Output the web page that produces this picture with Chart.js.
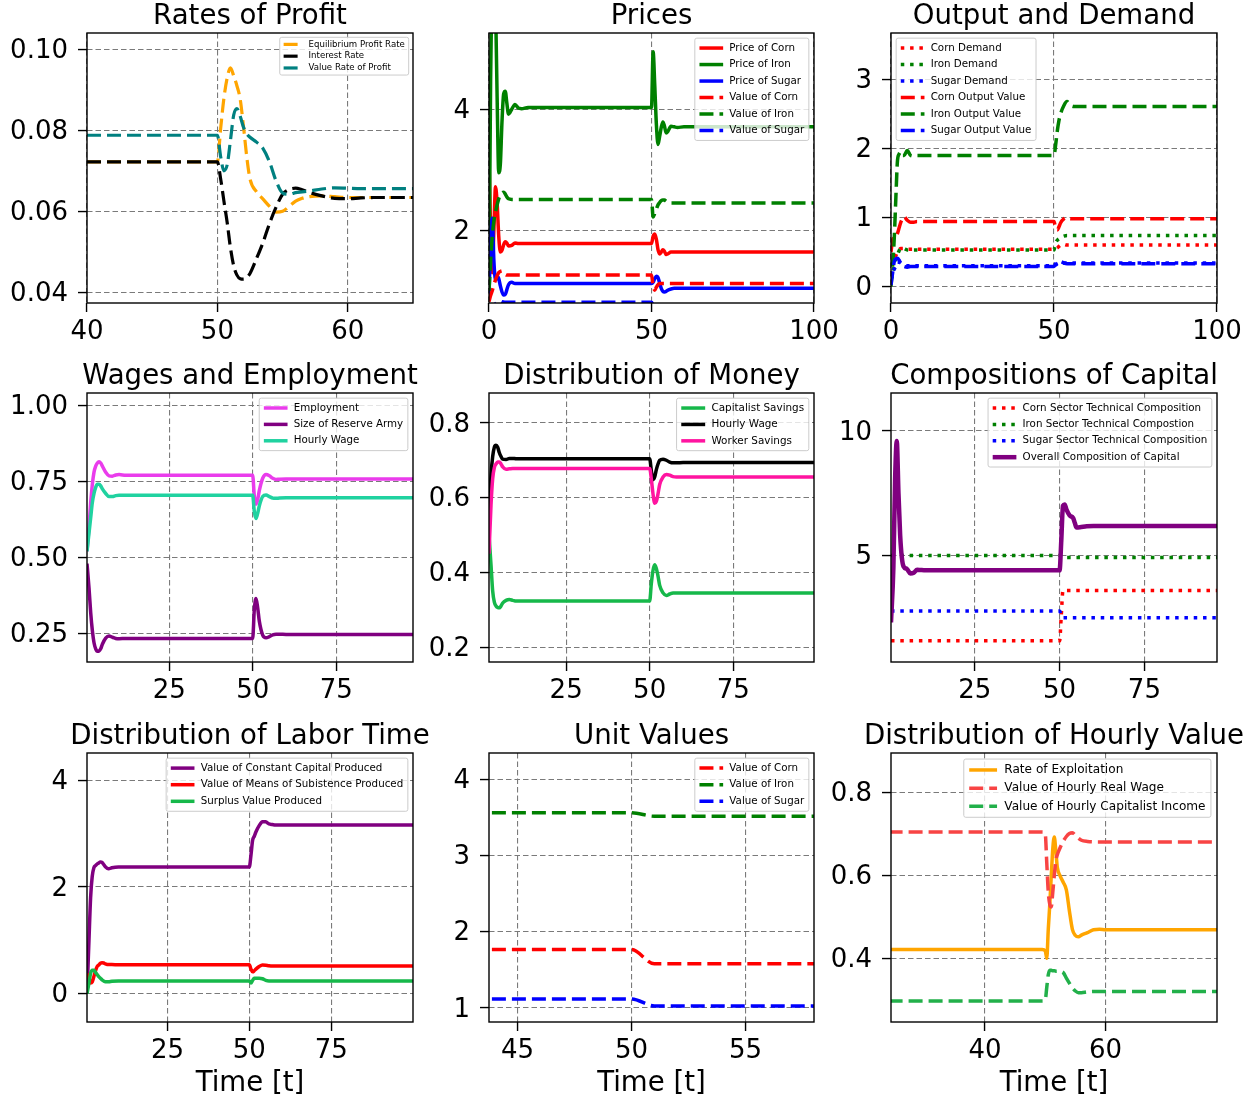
<!DOCTYPE html>
<html>
<head>
<meta charset="utf-8">
<script src="https://cdn.jsdelivr.net/npm/chart.js@4.4.3/dist/chart.umd.min.js"></script>
<style>
  body{margin:0;background:#fff;}
  #wrap{position:relative;width:1256px;height:1099px;overflow:hidden;background:#fff;}
  #wrap canvas{position:absolute;}
</style>
</head>
<body>
<div id="wrap"></div>
<script>
// ---- data ----

// Rates of Profit
const tProfit = [40, 50, 50.25, 50.5, 50.75, 51, 51.25, 51.5, 51.75, 52, 52.25, 52.5, 53, 53.5, 54, 54.5, 55, 55.5, 56, 56.5, 57, 58, 59, 60, 61, 62, 66];
const eqProfitRate = [0.0722, 0.0722, 0.0805, 0.088, 0.093, 0.0955, 0.0935, 0.091, 0.0877, 0.081, 0.0735, 0.068, 0.0648, 0.063, 0.0612, 0.0598, 0.0600, 0.0612, 0.0625, 0.0632, 0.0636, 0.0638, 0.0636, 0.0634, 0.0634, 0.0634, 0.0634];
const interestRate = [0.0722, 0.0722, 0.068, 0.0625, 0.0572, 0.051, 0.0465, 0.0442, 0.0433, 0.0432, 0.0436, 0.0446, 0.0483, 0.0523, 0.057, 0.061, 0.0642, 0.0654, 0.0657, 0.0653, 0.0647, 0.0638, 0.0632, 0.0631, 0.0633, 0.0634, 0.0634];
const valueProfitRate = [0.0788, 0.0788, 0.0735, 0.0700, 0.0715, 0.0775, 0.0838, 0.0854, 0.0835, 0.0808, 0.0792, 0.0783, 0.0771, 0.0755, 0.0722, 0.0675, 0.0645, 0.0642, 0.0646, 0.0648, 0.0650, 0.0655, 0.0658, 0.0657, 0.0656, 0.0656, 0.0656];

// Prices
const tPrices = [0, 0.5, 1, 1.5, 2, 2.5, 3, 3.5, 4, 4.5, 5, 5.5, 6, 7, 8, 9, 10, 12, 50, 50.5, 51, 51.5, 52, 52.5, 53, 53.5, 54, 54.5, 55, 56, 57, 58, 60, 100];
const priceCorn = [3.2, 2.0, 1.3, 2.0, 2.72, 2.45, 1.9, 1.64, 1.67, 1.76, 1.81, 1.79, 1.74, 1.75, 1.79, 1.78, 1.78, 1.78, 1.78, 1.9, 1.94, 1.85, 1.68, 1.61, 1.64, 1.68, 1.65, 1.60, 1.61, 1.64, 1.64, 1.64, 1.64, 1.64];
const priceIron = [1.0, 4.5, 6.5, 7.0, 5.8, 4.2, 2.95, 3.1, 3.8, 4.25, 4.3, 4.1, 3.92, 4.0, 4.08, 4.02, 4.01, 4.03, 4.03, 4.95, 4.4, 3.75, 3.42, 3.55, 3.7, 3.79, 3.72, 3.61, 3.63, 3.72, 3.71, 3.70, 3.71, 3.71];
const priceSugar = [0.9, 1.8, 2.2, 1.5, 1.18, 1.24, 1.2, 1.08, 0.98, 0.93, 0.94, 1.02, 1.1, 1.14, 1.12, 1.12, 1.12, 1.12, 1.12, 1.14, 1.2, 1.24, 1.22, 1.13, 1.04, 0.99, 0.98, 0.99, 1.01, 1.03, 1.04, 1.04, 1.04, 1.04];
const valueCorn = [0.82, 0.92, 1.0, 1.1, 1.18, 1.25, 1.3, 1.32, 1.33, 1.3, 1.27, 1.26, 1.26, 1.26, 1.26, 1.26, 1.26, 1.26, 1.26, 1.08, 1.01, 1.06, 1.1, 1.12, 1.12, 1.12, 1.12, 1.12, 1.12, 1.12, 1.12, 1.12, 1.12, 1.12];
const valueIron = [1.0, 1.5, 1.9, 2.15, 2.3, 2.42, 2.52, 2.58, 2.62, 2.63, 2.6, 2.55, 2.52, 2.51, 2.51, 2.51, 2.51, 2.51, 2.51, 2.22, 2.28, 2.35, 2.42, 2.46, 2.49, 2.5, 2.5, 2.48, 2.46, 2.45, 2.45, 2.45, 2.45, 2.45];
const valueSugar = [0.6, 0.65, 0.7, 0.74, 0.78, 0.81, 0.83, 0.83, 0.82, 0.815, 0.81, 0.81, 0.81, 0.81, 0.81, 0.81, 0.81, 0.81, 0.81, 0.76, 0.74, 0.74, 0.74, 0.74, 0.74, 0.74, 0.74, 0.74, 0.74, 0.74, 0.74, 0.74, 0.74, 0.74];

// Output and Demand
const tOutput = [0, 0.5, 1, 1.5, 2, 2.5, 3, 3.5, 4, 5, 6, 7, 8, 10, 50, 50.5, 51, 51.5, 52, 53, 54, 55, 56, 58, 100];
const cornDemand = [0.3, 0.35, 0.4, 0.45, 0.5, 0.53, 0.55, 0.55, 0.55, 0.54, 0.54, 0.54, 0.54, 0.54, 0.54, 0.55, 0.56, 0.58, 0.6, 0.61, 0.6, 0.6, 0.6, 0.6, 0.6];
const ironDemand = [0.1, 0.19, 0.3, 0.4, 0.46, 0.52, 0.55, 0.56, 0.55, 0.53, 0.53, 0.53, 0.53, 0.53, 0.53, 0.63, 0.67, 0.69, 0.71, 0.73, 0.74, 0.74, 0.74, 0.74, 0.74];
const sugarDemand = [0.1, 0.18, 0.25, 0.3, 0.35, 0.35, 0.34, 0.32, 0.31, 0.3, 0.3, 0.3, 0.3, 0.3, 0.3, 0.31, 0.33, 0.34, 0.35, 0.34, 0.34, 0.34, 0.34, 0.34, 0.34];
const cornOutput = [0.5, 0.68, 0.7, 0.72, 0.77, 0.85, 0.93, 0.98, 1.01, 0.96, 0.93, 0.93, 0.94, 0.94, 0.94, 0.85, 0.82, 0.86, 0.92, 0.98, 1.0, 0.98, 0.98, 0.98, 0.98];
const ironOutput = [0, 0.3, 0.7, 1.3, 1.83, 1.92, 1.95, 1.9, 1.9, 1.97, 1.9, 1.89, 1.9, 1.9, 1.9, 2.05, 2.25, 2.4, 2.5, 2.62, 2.68, 2.63, 2.61, 2.61, 2.61];
const sugarOutput = [0.02, 0.2, 0.36, 0.4, 0.41, 0.38, 0.33, 0.3, 0.29, 0.28, 0.29, 0.29, 0.29, 0.29, 0.29, 0.33, 0.36, 0.36, 0.36, 0.34, 0.33, 0.33, 0.33, 0.33, 0.33];

// Wages and Employment
const tWages = [0.4, 1, 1.5, 2, 2.5, 3, 3.5, 4, 4.5, 5, 6, 7, 8, 9, 10, 12, 50, 50.5, 51, 51.5, 52, 53, 54, 55, 56, 57, 58, 60, 98];
const employment = [0.52, 0.6, 0.68, 0.74, 0.78, 0.80, 0.81, 0.814, 0.81, 0.80, 0.78, 0.768, 0.767, 0.771, 0.772, 0.770, 0.770, 0.70, 0.675, 0.69, 0.72, 0.76, 0.772, 0.768, 0.76, 0.756, 0.757, 0.758, 0.758];
const reserveArmy = [0.48, 0.4, 0.32, 0.26, 0.22, 0.2, 0.192, 0.193, 0.2, 0.215, 0.235, 0.242, 0.238, 0.234, 0.233, 0.234, 0.234, 0.33, 0.365, 0.335, 0.29, 0.245, 0.236, 0.24, 0.246, 0.248, 0.248, 0.247, 0.247];
const hourlyWage = [0.52, 0.58, 0.63, 0.68, 0.71, 0.73, 0.74, 0.74, 0.735, 0.725, 0.71, 0.70, 0.70, 0.703, 0.704, 0.704, 0.704, 0.65, 0.628, 0.645, 0.67, 0.70, 0.705, 0.70, 0.695, 0.694, 0.695, 0.696, 0.696];

// Distribution of Money
const tMoney = [1.9, 2.5, 3, 3.5, 4, 4.5, 5, 5.5, 6, 7, 8, 9, 10, 12, 50, 50.5, 51, 51.5, 52, 52.5, 53, 54, 55, 56, 57, 58, 60, 99.2];
const capitalistSavings = [0.5, 0.42, 0.35, 0.32, 0.31, 0.306, 0.305, 0.31, 0.318, 0.325, 0.327, 0.325, 0.323, 0.323, 0.323, 0.37, 0.405, 0.42, 0.41, 0.39, 0.365, 0.345, 0.338, 0.342, 0.345, 0.345, 0.345, 0.345];
const moneyWage = [0.55, 0.66, 0.71, 0.735, 0.74, 0.735, 0.72, 0.71, 0.703, 0.702, 0.705, 0.705, 0.704, 0.704, 0.704, 0.672, 0.648, 0.655, 0.675, 0.69, 0.70, 0.703, 0.70, 0.695, 0.693, 0.693, 0.694, 0.694];
const workerSavings = [0.45, 0.58, 0.65, 0.68, 0.69, 0.695, 0.695, 0.69, 0.682, 0.676, 0.677, 0.678, 0.678, 0.678, 0.678, 0.65, 0.61, 0.585, 0.59, 0.61, 0.635, 0.655, 0.662, 0.66, 0.656, 0.655, 0.655, 0.655];

// Compositions of Capital
const tCapital = [0.3, 1, 1.5, 2, 2.5, 3, 3.5, 4, 5, 6, 7, 8, 9, 10, 50, 50.5, 51, 51.5, 52, 53, 54, 54.5, 55, 56, 58, 60, 96.4];
const cornTech = [1.56, 1.56, 1.56, 1.56, 1.56, 1.56, 1.56, 1.56, 1.56, 1.56, 1.56, 1.56, 1.56, 1.56, 1.56, 2.6, 3.59, 3.59, 3.59, 3.59, 3.59, 3.59, 3.59, 3.59, 3.59, 3.59, 3.59];
const ironTech = [4.99, 4.99, 4.99, 4.99, 4.99, 4.99, 4.99, 4.99, 4.99, 4.99, 4.99, 4.99, 4.99, 4.99, 4.99, 4.95, 4.91, 4.91, 4.91, 4.91, 4.91, 4.91, 4.91, 4.91, 4.91, 4.91, 4.91];
const sugarTech = [2.76, 2.76, 2.76, 2.76, 2.76, 2.76, 2.76, 2.76, 2.76, 2.76, 2.76, 2.76, 2.76, 2.76, 2.76, 2.62, 2.49, 2.49, 2.49, 2.49, 2.49, 2.49, 2.49, 2.49, 2.49, 2.49, 2.49];
const overallComp = [2.3, 4.5, 8.0, 9.6, 7.5, 5.8, 4.9, 4.55, 4.45, 4.27, 4.3, 4.42, 4.41, 4.40, 4.40, 5.6, 7.0, 7.05, 6.85, 6.6, 6.5, 6.3, 6.12, 6.13, 6.17, 6.18, 6.18];

// Distribution of Labor Time
const tLabor = [0.4, 1, 1.5, 2, 2.5, 3, 3.5, 4, 4.5, 5, 5.5, 6, 7, 8, 10, 50, 50.5, 51, 51.5, 52, 53, 54, 55, 56, 57, 58, 60, 100];
const constCapital = [0.0, 1.0, 1.8, 2.2, 2.36, 2.4, 2.43, 2.45, 2.47, 2.46, 2.42, 2.38, 2.34, 2.36, 2.375, 2.375, 2.6, 2.875, 2.95, 3.03, 3.15, 3.22, 3.22, 3.18, 3.17, 3.16, 3.16, 3.16];
const subsistence = [0.38, 0.3, 0.2, 0.22, 0.32, 0.43, 0.51, 0.54, 0.57, 0.58, 0.575, 0.56, 0.545, 0.545, 0.544, 0.544, 0.46, 0.41, 0.43, 0.46, 0.51, 0.54, 0.535, 0.525, 0.52, 0.52, 0.52, 0.52];
const surplusValue = [0.0, 0.2, 0.38, 0.44, 0.44, 0.4, 0.36, 0.32, 0.29, 0.26, 0.24, 0.225, 0.225, 0.235, 0.24, 0.24, 0.2, 0.25, 0.29, 0.29, 0.29, 0.28, 0.25, 0.24, 0.24, 0.24, 0.24, 0.24];

// Unit Values
const tUnit = [43, 44, 45, 46, 47, 48, 49, 50, 51, 52, 53, 54, 55, 56, 57, 58, 59];
const unitCorn = [1.766, 1.766, 1.766, 1.766, 1.766, 1.766, 1.766, 1.766, 1.58, 1.58, 1.58, 1.58, 1.58, 1.58, 1.58, 1.58, 1.58];
const unitIron = [3.56, 3.56, 3.56, 3.56, 3.56, 3.56, 3.56, 3.56, 3.515, 3.515, 3.515, 3.515, 3.515, 3.515, 3.515, 3.515, 3.515];
const unitSugar = [1.118, 1.118, 1.118, 1.118, 1.118, 1.118, 1.118, 1.118, 1.027, 1.027, 1.027, 1.027, 1.027, 1.027, 1.027, 1.027, 1.027];

// Distribution of Hourly Value
const tHourly = [24, 30, 40, 49.5, 50, 50.25, 50.5, 50.75, 51, 51.25, 51.5, 51.75, 52, 52.5, 53, 53.5, 54, 54.5, 55, 55.5, 56, 57, 58, 59, 60, 62, 79];
const exploitation = [0.421, 0.421, 0.421, 0.421, 0.418, 0.400, 0.47, 0.53, 0.60, 0.665, 0.693, 0.66, 0.62, 0.598, 0.583, 0.565, 0.515, 0.47, 0.455, 0.452, 0.456, 0.462, 0.469, 0.47, 0.469, 0.469, 0.469];
const realWageValue = [0.705, 0.705, 0.705, 0.705, 0.70, 0.63, 0.56, 0.53, 0.524, 0.56, 0.60, 0.635, 0.65, 0.668, 0.683, 0.694, 0.701, 0.703, 0.697, 0.69, 0.685, 0.682, 0.681, 0.681, 0.681, 0.681, 0.681];
const capIncomeValue = [0.297, 0.297, 0.297, 0.297, 0.300, 0.33, 0.36, 0.371, 0.371, 0.370, 0.370, 0.369, 0.369, 0.368, 0.365, 0.352, 0.34, 0.329, 0.321, 0.317, 0.317, 0.319, 0.320, 0.320, 0.320, 0.320, 0.320];

// ---- styling ----
const FAMILY = "'DejaVu Sans', sans-serif";
const DASHED = [14, 6];
const DOTTED = [3.5, 5.8];
const SOLID = [];
// canvas margins around each plot box (y labels, title, x labels)
const PAD_L = 90, PAD_T = 45, PAD_R = 40, PAD_B = 80;

// frame, title, x label and matplotlib-like legend
const decor = {
  id: 'decor',
  afterDraw(chart, args, o){
    const {ctx, chartArea: a} = chart;
    ctx.save();
    ctx.strokeStyle = '#000'; ctx.lineWidth = 1.4; ctx.setLineDash([]);
    ctx.strokeRect(a.left, a.top, a.right - a.left, a.bottom - a.top);

    ctx.fillStyle = '#000';
    ctx.font = `27.6px ${FAMILY}`;
    ctx.textAlign = 'center'; ctx.textBaseline = 'alphabetic';
    ctx.fillText(o.title, (a.left + a.right)/2, a.top - 9.5);
    if(o.xlabel) ctx.fillText(o.xlabel, (a.left + a.right)/2, a.bottom + 68.5);

    // legend
    const lg = o.legend, sets = chart.data.datasets;
    const fs = lg.fs, pitch = lg.pitch;
    ctx.font = `${fs}px ${FAMILY}`;
    const textW = Math.max(...sets.map(d => ctx.measureText(d.label).width));
    const pad = 0.45*fs, sample = 2.3*fs, gap = 0.6*fs, rowPad = 0.6*pitch, inset = 0.5*fs;
    const w = pad + sample + gap + textW + pad;
    const h = pitch*(sets.length - 1) + 2*rowPad;
    const x0 = lg.loc === 'ul' ? a.left + inset : a.right - inset - w;
    const y0 = a.top + inset;
    ctx.beginPath();
    if(ctx.roundRect) ctx.roundRect(x0, y0, w, h, 2); else ctx.rect(x0, y0, w, h);
    ctx.fillStyle = 'rgba(255,255,255,0.8)'; ctx.fill();
    ctx.strokeStyle = '#cccccc'; ctx.lineWidth = 1; ctx.stroke();
    sets.forEach((d, i) => {
      const yy = y0 + rowPad + i*pitch;
      ctx.strokeStyle = d.borderColor; ctx.lineWidth = d.borderWidth;
      ctx.setLineDash(d.borderDash || []);
      ctx.beginPath(); ctx.moveTo(x0 + pad, yy); ctx.lineTo(x0 + pad + sample, yy); ctx.stroke();
      ctx.setLineDash([]);
      ctx.fillStyle = '#000'; ctx.textAlign = 'left'; ctx.textBaseline = 'middle';
      ctx.fillText(d.label, x0 + pad + sample + gap, yy);
    });
    ctx.restore();
  }
};

// ---- panels ----
const panels = [
  { box:[87,33,413,303], title:'Rates of Profit', t:tProfit, x:[40,65], y:[0.0373,0.1041],
    xTicks:[40,50,60], yTicks:[0.04,0.06,0.08,0.10], yDec:2, legend:{loc:'ur', fs:8.6, pitch:11.8},
    series:[
      {label:'Equilibrium Profit Rate', y:eqProfitRate, color:'#ffa500', dash:DASHED, w:3.2},
      {label:'Interest Rate', y:interestRate, color:'#000000', dash:DASHED, w:3.2},
      {label:'Value Rate of Profit', y:valueProfitRate, color:'#008080', dash:DASHED, w:3.2}
    ]},
  { box:[489,33,814,303], title:'Prices', t:tPrices, x:[0,100], y:[0.798,5.261],
    xTicks:[0,50,100], yTicks:[2,4], yDec:0, legend:{loc:'ur', fs:10.3, pitch:16.5},
    series:[
      {label:'Price of Corn', y:priceCorn, color:'#ff0000', dash:SOLID, w:3.5},
      {label:'Price of Iron', y:priceIron, color:'#008000', dash:SOLID, w:3.5},
      {label:'Price of Sugar', y:priceSugar, color:'#0000ff', dash:SOLID, w:3.5},
      {label:'Value of Corn', y:valueCorn, color:'#ff0000', dash:DASHED, w:3.5},
      {label:'Value of Iron', y:valueIron, color:'#008000', dash:DASHED, w:3.5},
      {label:'Value of Sugar', y:valueSugar, color:'#0000ff', dash:DASHED, w:3.5}
    ]},
  { box:[891,33,1217,303], title:'Output and Demand', t:tOutput, x:[0,100], y:[-0.24,3.674],
    xTicks:[0,50,100], yTicks:[0,1,2,3], yDec:0, legend:{loc:'ul', fs:10.3, pitch:16.5},
    series:[
      {label:'Corn Demand', y:cornDemand, color:'#ff0000', dash:DOTTED, w:3.5},
      {label:'Iron Demand', y:ironDemand, color:'#008000', dash:DOTTED, w:3.5},
      {label:'Sugar Demand', y:sugarDemand, color:'#0000ff', dash:DOTTED, w:3.5},
      {label:'Corn Output Value', y:cornOutput, color:'#ff0000', dash:DASHED, w:3.5},
      {label:'Iron Output Value', y:ironOutput, color:'#008000', dash:DASHED, w:3.5},
      {label:'Sugar Output Value', y:sugarOutput, color:'#0000ff', dash:DASHED, w:3.5}
    ]},
  { box:[87,393,413,662], title:'Wages and Employment', t:tWages, x:[0.4,98], y:[0.1567,1.040],
    xTicks:[25,50,75], yTicks:[0.25,0.5,0.75,1.0], yDec:2, legend:{loc:'ur', fs:10.3, pitch:16.4},
    series:[
      {label:'Employment', y:employment, color:'#ea3cec', dash:SOLID, w:3.5},
      {label:'Size of Reserve Army', y:reserveArmy, color:'#800080', dash:SOLID, w:3.5},
      {label:'Hourly Wage', y:hourlyWage, color:'#20d2a0', dash:SOLID, w:3.5}
    ]},
  { box:[489,393,814,662], title:'Distribution of Money', t:tMoney, x:[1.9,99.2], y:[0.160,0.880],
    xTicks:[25,50,75], yTicks:[0.2,0.4,0.6,0.8], yDec:1, legend:{loc:'ur', fs:10.4, pitch:16.4},
    series:[
      {label:'Capitalist Savings', y:capitalistSavings, color:'#16b84a', dash:SOLID, w:3.5},
      {label:'Hourly Wage', y:moneyWage, color:'#000000', dash:SOLID, w:3.5},
      {label:'Worker Savings', y:workerSavings, color:'#ff14a0', dash:SOLID, w:3.5}
    ]},
  { box:[891,393,1217,662], title:'Compositions of Capital', t:tCapital, x:[0.3,96.4], y:[0.71,11.53],
    xTicks:[25,50,75], yTicks:[5,10], yDec:0, legend:{loc:'ur', fs:10.3, pitch:16.4},
    series:[
      {label:'Corn Sector Technical Composition', y:cornTech, color:'#ff0000', dash:DOTTED, w:3.5},
      {label:'Iron Sector Technical Compostion', y:ironTech, color:'#008000', dash:DOTTED, w:3.5},
      {label:'Sugar Sector Technical Composition', y:sugarTech, color:'#0000ff', dash:DOTTED, w:3.5},
      {label:'Overall Composition of Capital', y:overallComp, color:'#800080', dash:SOLID, w:4.5}
    ]},
  { box:[87,753,413,1022], title:'Distribution of Labor Time', xlabel:'Time [t]', t:tLabor, x:[0.4,100], y:[-0.53,4.51],
    xTicks:[25,50,75], yTicks:[0,2,4], yDec:0, legend:{loc:'ur', fs:10.3, pitch:16.6},
    series:[
      {label:'Value of Constant Capital Produced', y:constCapital, color:'#800080', dash:SOLID, w:3.5},
      {label:'Value of Means of Subistence Produced', y:subsistence, color:'#ff0000', dash:SOLID, w:3.5},
      {label:'Surplus Value Produced', y:surplusValue, color:'#16b84a', dash:SOLID, w:3.5}
    ]},
  { box:[489,753,814,1022], title:'Unit Values', xlabel:'Time [t]', t:tUnit, x:[43.75,58], y:[0.816,4.345],
    xTicks:[45,50,55], yTicks:[1,2,3,4], yDec:0, legend:{loc:'ur', fs:10.3, pitch:16.6},
    series:[
      {label:'Value of Corn', y:unitCorn, color:'#ff0000', dash:DASHED, w:3.5},
      {label:'Value of Iron', y:unitIron, color:'#008000', dash:DASHED, w:3.5},
      {label:'Value of Sugar', y:unitSugar, color:'#0000ff', dash:DASHED, w:3.5}
    ]},
  { box:[891,753,1217,1022], title:'Distribution of Hourly Value', xlabel:'Time [t]', t:tHourly, x:[24.4,78.5], y:[0.2462,0.8956],
    xTicks:[40,60], yTicks:[0.4,0.6,0.8], yDec:1, legend:{loc:'ur', fs:12.1, pitch:18.2},
    series:[
      {label:'Rate of Exploitation', y:exploitation, color:'#ffa500', dash:SOLID, w:3.5},
      {label:'Value of Hourly Real Wage', y:realWageValue, color:'#f84444', dash:DASHED, w:3.5},
      {label:'Value of Hourly Capitalist Income', y:capIncomeValue, color:'#22b04a', dash:DASHED, w:3.5}
    ]}
];

const wrap = document.getElementById('wrap');

function axis(ticks, range, isX, dec){
  return {
    type:'linear', min:range[0], max:range[1],
    afterBuildTicks: s => { s.ticks = ticks.map(v => ({value:v})); },
    afterFit: s => { if(isX) s.height = PAD_B; else s.width = PAD_L; },
    ticks:{
      font:{family:FAMILY, size:26}, color:'#000', padding: isX ? 5 : 10,
      labelOffset: isX ? 0 : 2,
      maxRotation:0, autoSkip:false,
      callback: v => isX ? String(v) : v.toFixed(dec)
    },
    grid:{color:'#7a7a7a', lineWidth:1.1, tickColor:'#000', tickLength:9, tickWidth:1.4, tickBorderDash:[]},
    border:{display:false, dash:[5.5,3]}
  };
}

panels.forEach(p => {
  const [L, T, R, B] = p.box;
  const c = document.createElement('canvas');
  c.width = PAD_L + (R - L) + PAD_R;
  c.height = PAD_T + (B - T) + PAD_B;
  c.style.left = (L - PAD_L) + 'px';
  c.style.top = (T - PAD_T) + 'px';
  wrap.appendChild(c);

  const n = p.series.length;
  new Chart(c, {
    type:'line',
    data:{
      datasets: p.series.map((s, i) => ({
        label: s.label,
        data: p.t.map((x, k) => ({x, y: s.y[k]})),
        borderColor: s.color, borderWidth: s.w, borderDash: s.dash,
        pointRadius: 0, fill: false, clip: 0,
        cubicInterpolationMode: 'monotone',
        order: n - i   // later series drawn on top, like matplotlib
      }))
    },
    options:{
      responsive:false, animation:false, devicePixelRatio:1,
      layout:{padding:{top:PAD_T, right:PAD_R, left:0, bottom:0}},
      plugins:{
        legend:{display:false}, tooltip:{enabled:false},
        decor:{title:p.title, xlabel:p.xlabel, legend:p.legend}
      },
      scales:{
        x: axis(p.xTicks, p.x, true),
        y: axis(p.yTicks, p.y, false, p.yDec)
      }
    },
    plugins:[decor]
  });
});
</script>
</body>
</html>
